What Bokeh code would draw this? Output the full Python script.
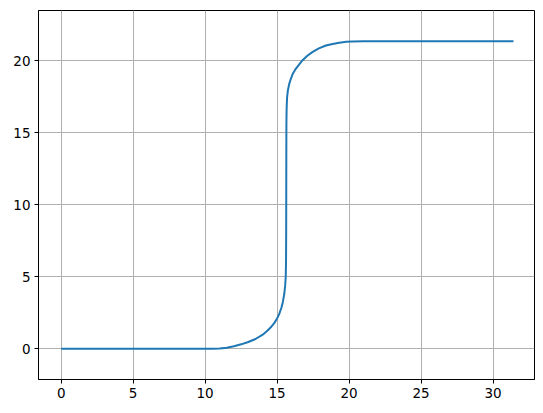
from bokeh.plotting import figure
from bokeh.models import Range1d, FixedTicker
from bokeh.embed import file_html
from bokeh.resources import INLINE

# Curve values
x_vals = [0.0, 5.0, 10.0, 10.5, 11.0, 11.5, 12.0, 12.5, 13.0, 13.5, 14.0, 14.34,
          14.6, 14.8, 15.0, 15.15, 15.3, 15.4, 15.5, 15.56, 15.6, 15.62, 15.63,
          15.635, 15.64, 15.645, 15.66, 15.69, 15.75, 15.85, 15.96, 16.1, 16.31,
          16.55, 16.77, 17.1, 17.47, 17.9, 18.39, 18.85, 19.32, 19.8, 20.24, 21.0,
          25.0, 31.42]
y_vals = [0.0, 0.0, 0.0, 0.0, 0.02, 0.08, 0.18, 0.31, 0.47, 0.68, 0.98, 1.27,
          1.53, 1.78, 2.1, 2.42, 2.85, 3.25, 3.82, 4.4, 5.0, 6.0, 8.0,
          10.67, 13.3, 15.5, 16.6, 17.4, 17.94, 18.4, 18.75, 19.1, 19.44,
          19.75, 20.02, 20.33, 20.6, 20.84, 21.04, 21.15, 21.24, 21.3, 21.32, 21.34,
          21.34, 21.34]

x_ticks = [0, 5, 10, 15, 20, 25, 30]
y_ticks = [0, 5, 10, 15, 20]

p = figure(width=535, height=405, output_backend="svg", toolbar_location=None,
           x_range=Range1d(-1.575, 32.88), y_range=Range1d(-2.13, 23.47),
           min_border_left=38, min_border_right=1, min_border_top=10, min_border_bottom=26)

p.line(x_vals, y_vals, line_color="#1f77b4", line_width=2)

p.outline_line_color = "black"
p.outline_line_alpha = 1
p.outline_line_width = 1

for ax, ticks in ((p.xaxis, x_ticks), (p.yaxis, y_ticks)):
    ax.ticker = FixedTicker(ticks=ticks)
    ax.axis_line_color = "black"
    ax.major_tick_line_color = "black"
    ax.major_tick_out = 4
    ax.major_tick_in = 0
    ax.minor_tick_line_color = None
    ax.major_label_text_font = "DejaVu Sans"
    ax.major_label_text_font_size = "13.5px"
    ax.major_label_text_color = "black"
    ax.major_label_standoff = 4

p.xgrid.ticker = FixedTicker(ticks=x_ticks)
p.ygrid.ticker = FixedTicker(ticks=y_ticks)
for g in (p.xgrid, p.ygrid):
    g.grid_line_color = "#b0b0b0"
    g.grid_line_width = 1
    g.grid_line_alpha = 1

p.background_fill_color = "white"
p.border_fill_color = "white"

open("out.html", "w").write(file_html(p, INLINE))
